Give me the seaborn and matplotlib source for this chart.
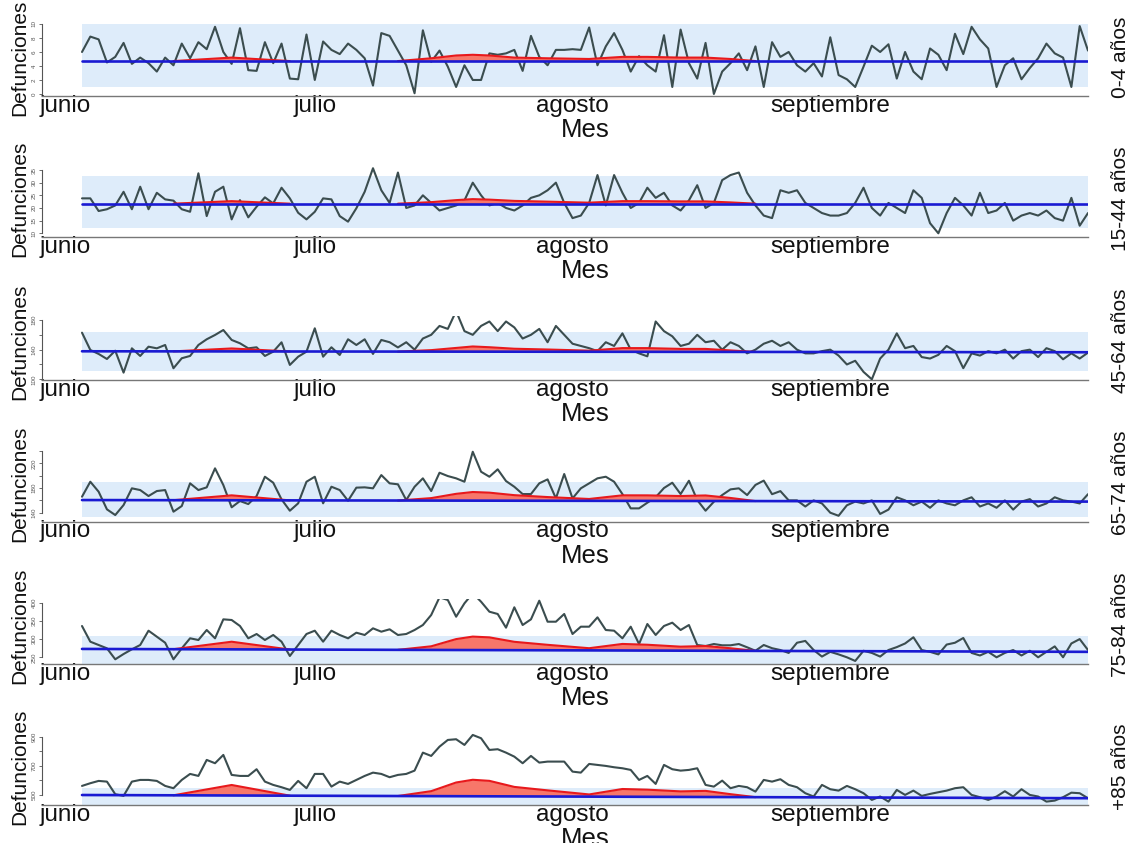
import numpy as np
import matplotlib
matplotlib.use("Agg")
import matplotlib.pyplot as plt
import seaborn as sns

# ---- daily deaths, 1 June - 30 September (122 days) ----
dias = np.arange(1, 123)

d_0_4 = [6.0, 8.2, 7.8, 4.5, 5.3, 7.3, 4.3, 5.2, 4.4, 3.2,
         5.2, 4.1, 7.2, 5.1, 7.4, 6.4, 9.6, 6.0, 4.3, 9.4,
         3.4, 3.3, 7.4, 4.4, 7.2, 2.2, 2.1, 8.5, 2.0, 7.5,
         6.3, 5.7, 7.2, 6.3, 5.1, 1.2, 8.7, 8.3, 6.2, 4.1,
         0.1, 9.1, 4.6, 6.2, 3.9, 1.0, 4.1, 2.0, 2.0, 5.8,
         5.6, 5.8, 6.3, 3.3, 8.3, 5.3, 4.1, 6.3, 6.3, 6.4,
         6.3, 9.5, 4.1, 6.8, 8.7, 6.3, 3.2, 5.4, 4.1, 3.2,
         8.4, 1.0, 9.2, 4.4, 2.2, 7.3, 0.0, 3.2, 4.4, 5.8,
         3.4, 6.8, 1.0, 7.4, 5.3, 6.0, 4.1, 3.2, 4.4, 2.5,
         8.1, 2.7, 2.1, 1.0, 3.9, 6.9, 6.0, 7.1, 2.2, 6.0,
         3.2, 2.1, 6.5, 5.6, 3.4, 8.6, 5.7, 9.6, 7.8, 6.5,
         1.0, 4.1, 5.1, 2.1, 3.7, 5.1, 7.2, 5.8, 5.2, 1.0,
         9.7, 6.2]

d_15_44 = [23.8, 23.8, 18.8, 19.5, 21.0, 26.4, 19.5, 28.4, 19.5, 26.0,
           23.4, 22.9, 19.5, 18.5, 33.7, 16.8, 26.4, 28.4, 15.5, 23.1,
           16.3, 20.5, 24.2, 21.8, 28.0, 23.8, 18.1, 15.5, 18.5, 23.8,
           23.4, 16.8, 14.6, 19.9, 26.4, 35.7, 27.0, 22.0, 34.0, 20.0,
           21.0, 25.0, 22.0, 19.0, 20.0, 21.0, 23.0, 30.0, 25.0, 21.0,
           22.0, 20.0, 19.0, 21.0, 24.0, 25.0, 27.0, 30.0, 22.0, 16.0,
           17.0, 22.0, 33.0, 21.0, 33.0, 26.0, 20.0, 22.0, 28.0, 24.0,
           26.0, 21.0, 19.0, 23.0, 29.0, 20.0, 22.0, 31.0, 33.0, 34.0,
           26.0, 21.0, 17.0, 16.0, 27.0, 26.0, 27.0, 22.0, 20.0, 18.0,
           17.0, 17.0, 18.0, 22.0, 28.0, 20.0, 17.0, 22.0, 20.0, 18.0,
           27.0, 24.0, 14.0, 10.0, 18.0, 24.0, 21.0, 17.0, 26.0, 18.0,
           19.0, 22.0, 15.0, 17.0, 18.0, 17.0, 19.0, 16.0, 15.0, 24.0,
           13.0, 18.0]

d_45_64 = [162.9, 139.6, 134.2, 127.4, 138.6, 109.0, 141.8, 131.5, 144.0, 141.8,
           146.3, 114.9, 128.4, 131.5, 146.3, 154.0, 159.8, 166.5, 153.1, 148.6,
           141.8, 143.2, 131.5, 137.3, 149.9, 119.4, 130.5, 137.3, 168.8, 130.5,
           143.2, 132.8, 154.0, 146.3, 154.0, 134.2, 153.1, 150.0, 143.0, 150.0,
           140.0, 155.0, 160.0, 172.0, 168.0, 192.0, 165.0, 160.0, 172.0, 178.0,
           165.0, 178.0, 170.0, 155.0, 160.0, 168.0, 150.0, 172.0, 160.0, 148.0,
           145.0, 142.0, 138.0, 150.0, 145.0, 162.0, 140.0, 135.0, 131.0, 178.0,
           165.0, 158.0, 145.0, 148.0, 160.0, 150.0, 152.0, 140.0, 150.0, 145.0,
           135.0, 140.0, 148.0, 152.0, 145.0, 150.0, 140.0, 135.0, 135.0, 138.0,
           140.0, 132.0, 120.0, 125.0, 110.0, 100.0, 128.0, 140.0, 162.0, 142.0,
           145.0, 130.0, 128.0, 133.0, 145.0, 138.0, 115.0, 135.0, 132.0, 138.0,
           135.0, 140.0, 128.0, 138.0, 140.0, 130.0, 142.0, 138.0, 127.0, 135.0,
           128.0, 136.0]

d_65_74 = [165.9, 190.2, 174.0, 145.4, 136.2, 152.4, 179.5, 176.7, 167.0, 175.1,
           176.7, 141.6, 150.8, 187.6, 176.7, 181.1, 211.9, 184.8, 148.7, 158.9,
           154.0, 167.0, 198.3, 188.6, 161.6, 143.2, 155.2, 190.2, 198.3, 155.2,
           182.1, 176.7, 159.4, 180.6, 181.1, 179.5, 201.0, 187.6, 186.0, 160.5,
           182.0, 195.7, 175.1, 204.8, 199.4, 195.7, 190.2, 238.8, 206.4, 198.3,
           210.3, 191.3, 182.0, 170.2, 170.2, 187.6, 194.0, 163.2, 202.7, 163.2,
           179.5, 187.6, 195.7, 198.3, 190.2, 170.2, 147.0, 147.0, 156.2, 165.0,
           180.0, 188.6, 170.2, 191.8, 160.5, 143.2, 157.8, 168.6, 177.8, 179.5,
           168.6, 185.0, 192.0, 170.0, 175.0, 160.0, 160.0, 150.0, 160.0, 155.0,
           140.0, 135.0, 152.0, 158.0, 155.0, 160.0, 138.0, 145.0, 165.0, 160.0,
           152.0, 158.0, 148.0, 160.0, 155.0, 152.0, 160.0, 165.0, 150.0, 155.0,
           148.0, 160.0, 145.0, 158.0, 162.0, 150.0, 155.0, 165.0, 160.0, 158.0,
           155.0, 170.0]

d_75_84 = [336.0, 292.9, 283.8, 274.7, 244.5, 259.0, 272.0, 283.8, 323.1, 306.6,
           290.1, 244.5, 274.7, 302.2, 297.5, 325.0, 302.2, 354.3, 352.5, 336.0,
           302.2, 314.0, 297.5, 311.3, 292.9, 253.6, 283.8, 314.0, 323.1, 292.9,
           323.1, 311.3, 302.2, 317.6, 311.3, 329.6, 320.4, 326.9, 311.3, 314.0,
           325.0, 338.7, 366.2, 414.8, 407.4, 361.5, 398.3, 425.8, 402.7, 375.3,
           369.0, 331.4, 387.4, 338.7, 354.3, 405.5, 347.8, 347.8, 369.0, 314.0,
           334.1, 334.1, 359.8, 325.0, 323.1, 302.2, 334.1, 286.5, 341.5, 311.3,
           336.0, 345.1, 325.0, 338.7, 283.8, 281.0, 286.5, 283.0, 283.0, 286.5,
           277.5, 268.0, 283.8, 275.0, 270.0, 262.0, 290.0, 295.0, 270.0, 252.0,
           265.0, 258.0, 250.0, 240.0, 268.0, 262.0, 252.0, 270.0, 278.0, 288.0,
           305.0, 270.0, 265.0, 258.0, 285.0, 290.0, 303.0, 262.0, 255.0, 265.0,
           250.0, 262.0, 270.0, 255.0, 268.0, 250.0, 265.0, 280.0, 250.0, 288.0,
           300.0, 270.0]

d_85 = [562.3, 580.8, 596.6, 591.8, 505.5, 494.0, 591.8, 603.4, 603.4, 596.6,
        562.3, 546.6, 603.4, 644.5, 630.8, 740.4, 717.8, 774.7, 637.7, 630.8,
        630.8, 676.7, 591.8, 569.2, 553.4, 534.9, 596.6, 546.6, 644.5, 644.5,
        557.5, 591.8, 576.0, 603.4, 630.8, 653.4, 644.5, 621.9, 637.7, 644.5,
        667.1, 790.4, 767.8, 831.5, 877.4, 882.2, 843.2, 911.6, 889.0, 808.9,
        813.7, 790.4, 763.0, 717.8, 767.8, 722.1, 729.0, 729.0, 729.0, 660.3,
        653.4, 713.0, 706.2, 699.4, 690.2, 683.3, 672.0, 603.4, 630.8, 576.0,
        706.2, 676.7, 667.1, 672.0, 683.3, 569.2, 557.5, 598.6, 546.6, 562.3,
        553.4, 523.3, 603.4, 591.8, 608.2, 569.2, 553.4, 512.3, 489.7, 569.2,
        539.7, 530.1, 562.3, 539.7, 512.3, 466.4, 489.7, 454.8, 534.9, 500.7,
        530.1, 494.0, 507.5, 519.0, 530.1, 546.6, 553.4, 500.7, 485.0, 466.4,
        489.7, 526.0, 489.7, 539.7, 500.7, 489.7, 454.8, 461.7, 485.0, 516.0,
        512.3, 478.0]

grupos = ["0-4 años", "15-44 años", "45-64 años", "65-74 años", "75-84 años", "+85 años"]
series = [d_0_4, d_15_44, d_45_64, d_65_74, d_75_84, d_85]

# expected deaths (start, end of the period)
esperado = [(4.7, 4.7), (21.7, 21.7), (137.8, 136.5), (160.5, 158.0), (273.0, 265.0), (500.0, 478.0)]
# normal range band (lower, upper)
banda = [(1.0, 10.0), (12.1, 32.7), (111.3, 164.2), (132.5, 190.2), (231.6, 308.5), (429.5, 550.0)]

# heat-attributable excess above expected
exceso_dias_1 = [12, 19, 26]
exceso_dias_2 = [39, 43, 46, 48, 50, 53, 57, 62, 66, 69, 73, 76, 79, 82]
exceso_1 = [[0, 0.5, 0], [0, 1.0, 0], [0, 4, 0], [0, 8, 0], [0, 21, 0], [0, 72, 0]]
exceso_2 = [
    [0, 0.4, 0.8, 0.9, 0.8, 0.5, 0.4, 0.3, 0.6, 0.6, 0.5, 0.5, 0.3, 0],
    [0, 0.6, 1.4, 1.8, 1.6, 1.1, 0.8, 0.4, 1.0, 1.0, 0.9, 0.9, 0.5, 0],
    [0, 2, 5, 7, 6, 4, 3, 1.5, 5, 5, 4, 4, 2, 0],
    [0, 4, 11, 14, 13, 9, 6, 3, 9, 9, 8, 9, 5, 0],
    [0, 10, 30, 37, 35, 23, 15, 6, 18, 16, 11, 13, 7, 0],
    [0, 34, 94, 113, 106, 65, 42, 15, 53, 49, 38, 42, 20, 0],
]

# y axis ticks and which of them carry a label
yticks = [list(range(0, 11, 2)), list(range(10, 36, 5)), list(range(100, 181, 20)),
          list(range(140, 241, 20)), list(range(250, 401, 50)), list(range(500, 901, 100))]
ylabeled = [yticks[0], yticks[1], [100, 140, 180], [140, 180, 220], yticks[4], [500, 700, 900]]

meses = ["junio", "julio", "agosto", "septiembre"]
inicio_mes = [0, 30, 61, 92]

# ---- layout (pixels of a 1133 x 843 canvas) ----
W, H = 1133, 843
cajas = [(20, 96), (166, 237.3), (316, 380), (447, 521.7), (598.7, 664), (732.7, 805.3)]
ylims = [(-0.29, 10.57), (8.42, 36.58), (99.06, 185.4), (125.4, 246.5), (231.6, 411.0), (429.5, 927.0)]
x_izq, x_der = 42, 1088
x_lim = (1 - 40 / 8.314, 122)

sns.set_theme(style="white")
plt.rcParams["font.family"] = ["Liberation Sans", "DejaVu Sans"]

fig = plt.figure(figsize=(W / 100, H / 100), dpi=100)

COL_LINEA = "#3b4d4f"
COL_BANDA = "#deecfa"
COL_AZUL = "#1a1ad2"
COL_ROJO = "#e8191c"
COL_RELLENO = "#f7776a"

for i in range(6):
    top_px, bot_px = cajas[i]
    ax = fig.add_axes([x_izq / W, 1 - bot_px / H, (x_der - x_izq) / W, (bot_px - top_px) / H])
    ax.set_facecolor("none")
    ax.set_xlim(*x_lim)
    ax.set_ylim(*ylims[i])

    # band
    lo, hi = banda[i]
    ax.fill_between([dias[0], dias[-1]], [lo, lo], [hi, hi], color=COL_BANDA, lw=0, zorder=1)

    # observed deaths
    sns.lineplot(x=dias, y=series[i], ax=ax, color=COL_LINEA, lw=1.5, zorder=3)

    # expected line
    e0, e1 = esperado[i]
    pend = (e1 - e0) / (dias[-1] - dias[0])

    def base(d):
        return e0 + pend * (np.asarray(d, dtype=float) - dias[0])

    for dd, ex in ((exceso_dias_1, exceso_1[i]), (exceso_dias_2, exceso_2[i])):
        b = base(dd)
        top = b + np.asarray(ex)
        ax.fill_between(dd, b, top, color=COL_RELLENO, lw=0, zorder=4)
        ax.plot(dd, top, color=COL_ROJO, lw=1.5, zorder=5)

    ax.plot([dias[0], dias[-1]], [e0, e1], color=COL_AZUL, lw=1.9, zorder=6)

    # axes styling
    for s in ("top", "right"):
        ax.spines[s].set_visible(False)
    ax.spines["left"].set_bounds(yticks[i][0], yticks[i][-1])
    ax.spines["left"].set_color("#555555")
    ax.spines["left"].set_linewidth(0.8)
    ax.spines["bottom"].set_color("#777777")
    ax.spines["bottom"].set_linewidth(1.0)

    ax.set_yticks(yticks[i])
    ax.set_yticklabels([str(t) if t in ylabeled[i] else "" for t in yticks[i]],
                       rotation=90, va="center", fontsize=4.5, color="#555555")
    ax.tick_params(axis="y", direction="out", length=2.5, width=0.6, color="#555555", pad=1.5, left=True)

    ax.set_xticks([m - 1 for m in inicio_mes])
    ax.set_xticklabels(meses, fontsize=17.5, color="#111111")
    ax.tick_params(axis="x", length=0, pad=-1, bottom=True)
    ax.set_xlabel("")
    ax.set_ylabel("")
    ax.grid(False)

    # captions
    fig.text(585 / W, 1 - (bot_px + 34) / H, "Mes", fontsize=18.5, ha="center", va="center", color="#111111")
    fig.text(20 / W, 1 - (bot_px - 38) / H, "Defunciones", fontsize=15, rotation=90,
             ha="center", va="center", color="#111111")
    fig.text(1120 / W, 1 - (bot_px - 39) / H, grupos[i], fontsize=15, rotation=90,
             ha="center", va="center", color="#111111")

fig.savefig("out.png", dpi=100, facecolor="white")
